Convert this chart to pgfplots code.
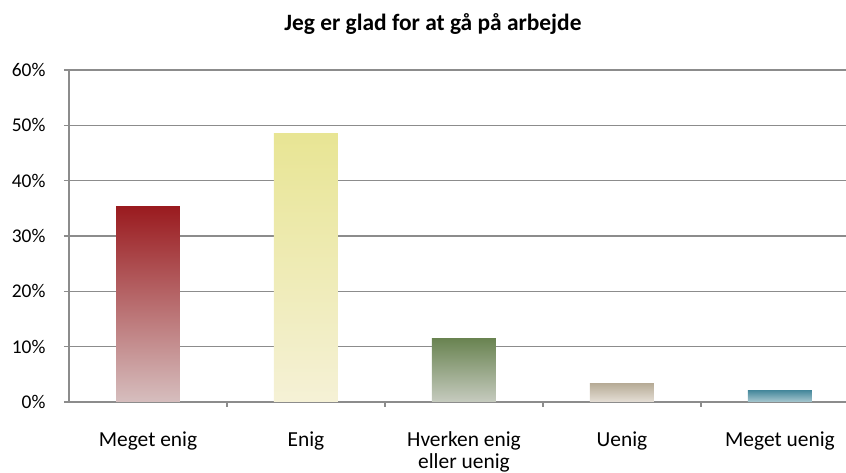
\documentclass[border=0pt]{standalone}
\usepackage{fontspec}
\setmainfont{Carlito}
\usepackage{pgfplots}
\pgfplotsset{compat=1.18}
\definecolor{gridc}{HTML}{8C8C8C}
\begin{document}
\begin{tikzpicture}[x=1bp,y=1bp]
\useasboundingbox (-69,-71) rectangle (777,402);
\begin{axis}[
  at={(0,0)}, anchor=south west,
  scale only axis, width=777bp, height=332bp,
  xmin=-0.5, xmax=4.418, ymin=0, ymax=60,
  axis x line*=bottom, axis y line*=left,
  axis line style={gridc, line width=1.1pt},
  xtick={0,1,2,3,4},
  xticklabels={Meget enig,Enig,{Hverken enig\\eller uenig},Uenig,Meget uenig},
  major x tick style={draw=none},
  minor xtick={0.5,1.5,2.5,3.5},
  minor tick length=5bp,
  minor x tick style={gridc, line width=1.1pt},
  xticklabel style={align=center, font=\fontsize{21.5}{22.5}\selectfont, yshift=-21bp},
  ytick={0,10,20,30,40,50,60},
  yticklabel={\pgfmathprintnumber{\tick}\%},
  yticklabel style={font=\fontsize{19.5}{22}\selectfont, xshift=-15bp},
  /pgf/number format/assume math mode=true,
  major tick length=5bp,
  y tick style={gridc, line width=1.1pt},
  ymajorgrids, grid style={gridc, line width=1.1pt},
  tick align=outside,
  clip=false,
]
\addplot[ybar, bar width=0.405, bar shift=0pt, draw=none, top color={rgb,255:red,154;green,27;blue,31}, middle color={rgb,255:red,176;green,122;blue,122}, bottom color={rgb,255:red,214;green,190;blue,190}] coordinates {(0,35.3)};
\addplot[ybar, bar width=0.405, bar shift=0pt, draw=none, top color={rgb,255:red,232;green,229;blue,148}, bottom color={rgb,255:red,245;green,241;blue,214}] coordinates {(1,48.5)};
\addplot[ybar, bar width=0.405, bar shift=0pt, draw=none, top color={rgb,255:red,106;green,132;blue,82}, middle color={rgb,255:red,150;green,165;blue,135}, bottom color={rgb,255:red,198;green,203;blue,191}] coordinates {(2,11.4)};
\addplot[ybar, bar width=0.405, bar shift=0pt, draw=none, top color={rgb,255:red,182;green,171;blue,150}, bottom color={rgb,255:red,229;green,223;blue,214}] coordinates {(3,3.4)};
\addplot[ybar, bar width=0.405, bar shift=0pt, draw=none, top color={rgb,255:red,74;green,139;blue,158}, bottom color={rgb,255:red,168;green,200;blue,208}] coordinates {(4,2.0)};
\end{axis}
\node[font=\fontsize{23.5}{26}\selectfont\bfseries, anchor=base, inner sep=0pt] at (364,371) {Jeg er glad for at gå på arbejde};
\end{tikzpicture}
\end{document}
